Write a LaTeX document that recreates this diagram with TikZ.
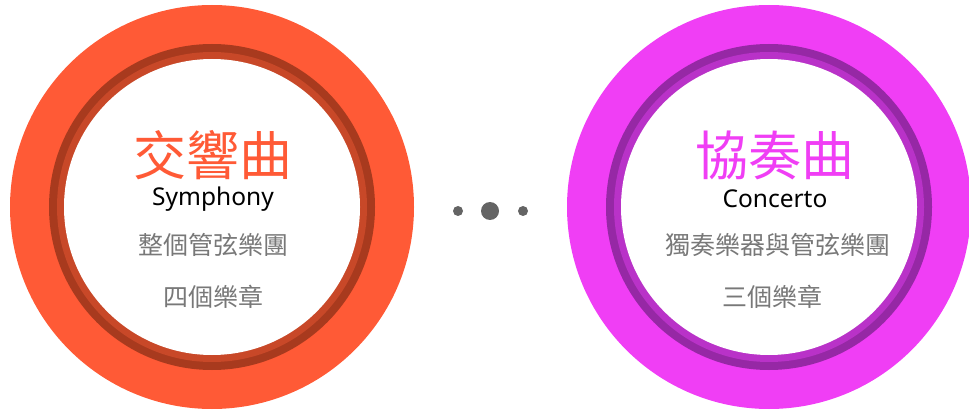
\documentclass[tikz,border=0pt]{standalone}
\usepackage{fontspec}
\setmainfont{Noto Sans}
\newfontfamily\cjk{Noto Sans CJK TC}
\usetikzlibrary{positioning}
\definecolor{symOrange}{RGB}{255,90,54}
\definecolor{symDark}{RGB}{168,58,30}
\definecolor{symMid}{RGB}{200,72,40}
\definecolor{conPink}{RGB}{240,62,245}
\definecolor{conDark}{RGB}{150,40,165}
\definecolor{conMid}{RGB}{185,50,200}
\definecolor{noteGray}{RGB}{120,120,120}
\definecolor{dotGray}{RGB}{100,100,100}

\begin{document}
\begin{tikzpicture}[x=1pt, y=-1pt,
    outer/.style={circle, minimum size=404pt, inner sep=0pt},
    ring/.style={circle, minimum size=326pt, inner sep=0pt},
    mid/.style={circle, minimum size=310pt, inner sep=0pt},
    core/.style={circle, fill=white, minimum size=296pt, inner sep=0pt},
    title/.style={font=\cjk\fontsize{53}{55}\selectfont, inner sep=0pt},
    latin/.style={font=\fontsize{24.5}{28}\selectfont, text=black, inner sep=0pt},
    note/.style={font=\cjk\fontsize{25}{28}\selectfont, text=noteGray, inner sep=0pt},
    dot/.style={circle, fill=dotGray, inner sep=0pt}
]
    \useasboundingbox (0,0) rectangle (969,414);

    % Symphony
    \node[outer, fill=symOrange] (symOuter) at (212,207) {};
    \node[ring, fill=symDark] (symRing) at (symOuter.center) {};
    \node[mid, fill=symMid] (symMid) at (symOuter.center) {};
    \node[core] (symCore) at (symOuter.center) {};
    \node[title, text=symOrange] (symTitle) at (213,155) {交響曲};
    \node[latin] (symName) at (213,199) {Symphony};
    \node[note] (symNoteA) at (213,245) {整個管弦樂團};
    \node[note] (symNoteB) at (213,297) {四個樂章};

    % Concerto
    \node[outer, fill=conPink] (conOuter) at (769,207) {};
    \node[ring, fill=conDark] (conRing) at (conOuter.center) {};
    \node[mid, fill=conMid] (conMid) at (conOuter.center) {};
    \node[core] (conCore) at (conOuter.center) {};
    \node[title, text=conPink] (conTitle) at (775,155) {協奏曲};
    \node[latin] (conName) at (775,199) {Concerto};
    \node[note] (conNoteA) at (778,245) {獨奏樂器與管弦樂團};
    \node[note] (conNoteB) at (772,297) {三個樂章};

    % Dots
    \node[dot, minimum size=10pt] (dotL) at (458,211) {};
    \node[dot, minimum size=18pt] (dotM) at (490,211) {};
    \node[dot, minimum size=10pt] (dotR) at (523,211) {};
\end{tikzpicture}
\end{document}
